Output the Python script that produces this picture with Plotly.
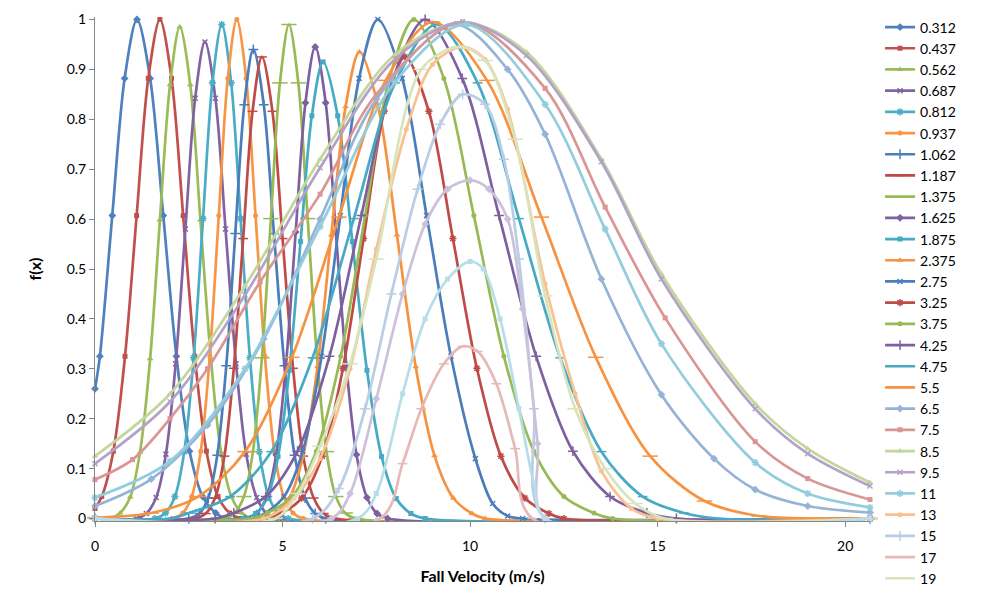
import plotly.graph_objects as go

# ---------------- data ----------------
names = ["0.312", "0.437", "0.562", "0.687", "0.812", "0.937", "1.062", "1.187", "1.375",
         "1.625", "1.875", "2.375", "2.75", "3.25", "3.75", "4.25", "4.75", "5.5",
         "6.5", "7.5", "8.5", "9.5", "11", "13", "15", "17", "19", "21", "23"]

x_0312 = [0, 0.13, 0.46, 0.79, 1.12, 1.47, 1.82, 2.17, 2.52, 2.87, 3.22, 3.5, 20.66]
y_0312 = [0.26, 0.325, 0.607, 0.882, 1, 0.882, 0.607, 0.325, 0.135, 0.044, 0.011, 0, 0]

x_0437 = [0, 0.18, 0.49, 0.8, 1.11, 1.42, 1.73, 2.04, 2.35, 2.66, 2.97, 3.28, 3.59, 3.9, 20.66]
y_0437 = [0.02, 0.044, 0.135, 0.325, 0.607, 0.882, 1, 0.882, 0.607, 0.325, 0.135, 0.044, 0.011, 0, 0]

x_0562 = [0, 0.4, 0.67, 0.94, 1.2, 1.47, 1.73, 2.0, 2.26, 2.54, 2.81, 3.09, 3.36, 3.64, 3.91, 4.2, 20.66]
y_0562 = [0, 0, 0.011, 0.043, 0.133, 0.32, 0.598, 0.869, 0.985, 0.869, 0.598, 0.32, 0.133, 0.043, 0.011, 0, 0]

x_0687 = [0, 1.1, 1.37, 1.63, 1.89, 2.15, 2.41, 2.67, 2.93, 3.21, 3.48, 3.76, 4.03, 4.31, 4.58, 4.9, 20.66]
y_0687 = [0, 0, 0.01, 0.042, 0.129, 0.31, 0.58, 0.842, 0.955, 0.842, 0.58, 0.31, 0.129, 0.042, 0.01, 0, 0]

x_0812 = [0, 1.6, 1.88, 2.13, 2.38, 2.63, 2.88, 3.13, 3.38, 3.63, 3.88, 4.13, 4.38, 4.63, 4.88, 5.15, 20.66]
y_0812 = [0, 0, 0.011, 0.044, 0.134, 0.322, 0.601, 0.873, 0.99, 0.873, 0.601, 0.322, 0.134, 0.044, 0.011, 0, 0]

x_0937 = [0, 2.05, 2.34, 2.58, 2.82, 3.06, 3.3, 3.54, 3.78, 4.03, 4.28, 4.53, 4.78, 5.03, 5.28, 5.55, 20.66]
y_0937 = [0, 0, 0.011, 0.044, 0.135, 0.325, 0.607, 0.882, 1.0, 0.882, 0.607, 0.325, 0.135, 0.044, 0.011, 0, 0]

x_1062 = [0, 2.5, 2.78, 3.02, 3.26, 3.5, 3.74, 3.98, 4.22, 4.5, 4.77, 5.05, 5.32, 5.6, 5.87, 6.15, 20.66]
y_1062 = [0, 0, 0.01, 0.041, 0.127, 0.306, 0.571, 0.829, 0.94, 0.829, 0.571, 0.306, 0.127, 0.041, 0.01, 0, 0]

x_1187 = [0, 2.65, 2.95, 3.2, 3.45, 3.7, 3.95, 4.2, 4.45, 4.73, 5.0, 5.28, 5.55, 5.83, 6.1, 6.4, 20.66]
y_1187 = [0, 0, 0.01, 0.041, 0.125, 0.301, 0.561, 0.816, 0.925, 0.816, 0.561, 0.301, 0.125, 0.041, 0.01, 0, 0]

x_1375 = [0, 3.45, 3.73, 3.97, 4.21, 4.45, 4.69, 4.93, 5.17, 5.42, 5.67, 5.92, 6.17, 6.42, 6.67, 6.95, 20.66]
y_1375 = [0, 0, 0.011, 0.044, 0.134, 0.322, 0.601, 0.873, 0.99, 0.873, 0.601, 0.322, 0.134, 0.044, 0.011, 0, 0]

x_1625 = [0, 4.0, 4.31, 4.57, 4.83, 5.09, 5.35, 5.61, 5.87, 6.15, 6.42, 6.7, 6.97, 7.25, 7.52, 7.8, 20.66]
y_1625 = [0, 0, 0.01, 0.042, 0.128, 0.307, 0.574, 0.833, 0.945, 0.833, 0.574, 0.307, 0.128, 0.042, 0.01, 0, 0]

x_1875 = [0, 3.95, 4.28, 4.58, 4.88, 5.18, 5.48, 5.78, 6.08, 6.47, 6.86, 7.25, 7.64, 8.03, 8.42, 8.8, 20.66]
y_1875 = [0, 0, 0.01, 0.04, 0.124, 0.297, 0.555, 0.807, 0.915, 0.807, 0.555, 0.297, 0.124, 0.04, 0.01, 0, 0]

x_2375 = [0, 4.4, 4.8, 5.18, 5.55, 5.93, 6.3, 6.68, 7.05, 7.55, 8.05, 8.55, 9.05, 9.55, 10.05, 10.4, 20.66]
y_2375 = [0, 0, 0.01, 0.041, 0.126, 0.304, 0.568, 0.825, 0.935, 0.825, 0.568, 0.304, 0.126, 0.041, 0.01, 0, 0]

x_275 = [0, 4.2, 4.54, 5.04, 5.54, 6.04, 6.54, 7.04, 7.54, 8.19, 8.84, 9.49, 10.14, 10.6, 11.0, 11.4, 20.66]
y_275 = [0, 0, 0.011, 0.044, 0.135, 0.325, 0.607, 0.882, 1.0, 0.882, 0.607, 0.325, 0.12, 0.03, 0.005, 0, 0]

x_325 = [0, 4.6, 4.96, 5.51, 6.06, 6.61, 7.16, 7.71, 8.26, 8.9, 9.54, 10.18, 10.82, 11.46, 12.1, 12.5, 20.66]
y_325 = [0, 0, 0.01, 0.041, 0.125, 0.301, 0.561, 0.816, 0.925, 0.816, 0.561, 0.301, 0.125, 0.041, 0.01, 0, 0]

x_375 = [0, 4.2, 4.6, 5.25, 5.9, 6.55, 7.2, 7.85, 8.5, 9.3, 10.1, 10.9, 11.7, 12.5, 13.3, 13.8, 20.66]
y_375 = [0, 0, 0.011, 0.044, 0.135, 0.325, 0.607, 0.882, 1.0, 0.882, 0.607, 0.325, 0.135, 0.044, 0.011, 0, 0]

x_425 = [0, 3.2, 3.7, 4.55, 5.4, 6.25, 7.1, 7.95, 8.8, 9.79, 10.77, 11.76, 12.74, 13.73, 14.71, 15.5, 20.66]
y_425 = [0, 0, 0.011, 0.044, 0.135, 0.325, 0.607, 0.882, 1.0, 0.882, 0.607, 0.325, 0.135, 0.044, 0.011, 0, 0]

x_475 = [0, 2.0, 2.5, 3.6, 4.7, 5.8, 6.9, 8.0, 9.1, 10.2, 11.3, 12.4, 13.5, 14.6, 15.7, 16.6, 20.66]
y_475 = [0, 0, 0.011, 0.044, 0.134, 0.322, 0.601, 0.873, 0.99, 0.873, 0.601, 0.322, 0.134, 0.044, 0.011, 0, 0]

x_55 = [0, 1.5, 2.75, 4.0, 5.25, 6.5, 7.75, 9.0, 10.45, 11.9, 13.35, 14.8, 16.25, 17.7, 19.2, 20.66]
y_55 = [0.002, 0.011, 0.044, 0.134, 0.323, 0.604, 0.878, 0.995, 0.878, 0.604, 0.323, 0.125, 0.035, 0.005, 0, 0]

x_65 = [0, 1.5, 3.0, 4.5, 6.0, 7.5, 9.6, 11.0, 12.0, 13.5, 15.1, 16.5, 17.6, 19.0, 20.66]
y_65 = [0.025, 0.079, 0.187, 0.36, 0.6, 0.84, 0.99, 0.9, 0.77, 0.48, 0.248, 0.12, 0.058, 0.025, 0.012]

x_75 = [0, 1.0, 2.0, 3.0, 4.4, 6.0, 7.5, 9.8, 12.0, 13.6, 15.2, 17.6, 19.0, 20.66]
y_75 = [0.078, 0.118, 0.2, 0.3, 0.474, 0.65, 0.85, 0.995, 0.862, 0.624, 0.402, 0.154, 0.08, 0.038]

x_85 = [0, 2.0, 4.0, 6.0, 8.0, 9.8, 11.5, 13.5, 15.1, 17.6, 19.0, 20.66]
y_85 = [0.125, 0.25, 0.466, 0.72, 0.93, 0.995, 0.935, 0.72, 0.49, 0.23, 0.14, 0.072]

x_95 = [0, 2.0, 4.0, 6.0, 8.0, 9.8, 11.5, 13.5, 15.1, 17.6, 19.0, 20.66]
y_95 = [0.11, 0.234, 0.448, 0.703, 0.921, 0.995, 0.928, 0.715, 0.48, 0.22, 0.13, 0.065]

x_11 = [0, 2.0, 4.0, 6.0, 8.0, 9.9, 12.0, 13.6, 15.1, 17.6, 19.0, 20.66]
y_11 = [0.042, 0.115, 0.3, 0.585, 0.875, 0.99, 0.83, 0.58, 0.35, 0.112, 0.05, 0.022]

x_13 = [0, 4.5, 5.3, 6.0, 6.8, 7.5, 8.3, 9.0, 9.8, 10.4, 11.0, 12.0, 12.8, 13.5, 14.3, 15.0, 20.66]
y_13 = [0, 0, 0.04, 0.12, 0.3, 0.54, 0.78, 0.91, 0.945, 0.92, 0.82, 0.47, 0.25, 0.095, 0.02, 0, 0]

x_15 = [0, 5.8, 6.5, 7.2, 7.9, 8.6, 9.2, 9.8, 10.4, 10.9, 11.3, 11.7, 12.0, 20.66]
y_15 = [0, 0, 0.06, 0.22, 0.45, 0.66, 0.79, 0.85, 0.83, 0.72, 0.52, 0.22, 0, 0]

x_17 = [0, 7.6, 8.2, 8.7, 9.3, 9.8, 10.2, 10.7, 11.2, 11.66, 20.66]
y_17 = [0, 0, 0.11, 0.22, 0.31, 0.345, 0.335, 0.27, 0.14, 0, 0]

x_19 = [0, 4.8, 5.4, 6.0, 6.8, 7.5, 8.7, 9.7, 10.4, 11.2, 12.0, 12.8, 13.6, 14.4, 15.2, 20.66]
y_19 = [0, 0, 0.05, 0.145, 0.31, 0.52, 0.9, 0.945, 0.918, 0.76, 0.446, 0.22, 0.1, 0.03, 0, 0]

x_21 = [0, 6.3, 6.8, 7.5, 8.2, 8.8, 9.4, 10.0, 10.5, 11.0, 11.4, 11.8, 12.0, 20.66]
y_21 = [0, 0, 0.05, 0.24, 0.45, 0.59, 0.66, 0.678, 0.66, 0.6, 0.42, 0.15, 0, 0]

x_23 = [0, 7.0, 7.5, 8.2, 8.8, 9.4, 10.0, 10.35, 10.8, 11.3, 11.7, 12.0, 20.66]
y_23 = [0, 0, 0.05, 0.25, 0.4, 0.48, 0.515, 0.5, 0.4, 0.22, 0.07, 0, 0]

xs = [x_0312, x_0437, x_0562, x_0687, x_0812, x_0937, x_1062, x_1187, x_1375, x_1625,
      x_1875, x_2375, x_275, x_325, x_375, x_425, x_475, x_55, x_65, x_75, x_85, x_95,
      x_11, x_13, x_15, x_17, x_19, x_21, x_23]
ys = [y_0312, y_0437, y_0562, y_0687, y_0812, y_0937, y_1062, y_1187, y_1375, y_1625,
      y_1875, y_2375, y_275, y_325, y_375, y_425, y_475, y_55, y_65, y_75, y_85, y_95,
      y_11, y_13, y_15, y_17, y_19, y_21, y_23]

x_ticks = [0, 5, 10, 15, 20]
y_ticks = [0, 0.1, 0.2, 0.3, 0.4, 0.5, 0.6, 0.7, 0.8, 0.9, 1]
y_tick_text = ["0", "0.1", "0.2", "0.3", "0.4", "0.5", "0.6", "0.7", "0.8", "0.9", "1"]

# ---------------- styles ----------------
colors = ["#4F81BD", "#C0504D", "#9BBB59", "#8064A2", "#4BACC6", "#F79646",
          "#4A7EBB", "#BE4B48", "#98B954", "#7D60A0", "#46AAC5", "#F69240",
          "#4A7EBB", "#BE4B48", "#98B954", "#7D60A0", "#46AAC5", "#F69240",
          "#95B3D7", "#D99694", "#C3D69B", "#B3A2C7", "#93CDDD", "#FAC090",
          "#B9CDE5", "#E6B9B8", "#D7E4BD", "#CCC1DA", "#B7DEE8"]
sym_cycle = [("diamond", 6, False), ("square", 5, False), ("triangle-up", 6, False),
             ("x-thin-open", 5, True), ("asterisk-open", 6, True), ("circle", 5, False),
             ("cross-thin-open", 7, True), ("line-ew-open", 7, True), ("line-ew-open", 11, True)]

FONT = "Lato, 'Open Sans', sans-serif"

fig = go.Figure()
for i, (nm, xv, yv) in enumerate(zip(names, xs, ys)):
    sym, sz, is_open = sym_cycle[i % 9]
    col = colors[i]
    fig.add_trace(go.Scatter(
        x=xv, y=yv, name=nm, mode="lines+markers",
        line=dict(color=col, width=2.7, shape="spline", smoothing=0.9),
        marker=dict(symbol=sym, size=sz, color=col,
                    line=dict(color=col, width=1.5 if is_open else 0)),
        cliponaxis=False,
        showlegend=(i < 27),
    ))

fig.update_layout(
    width=990, height=589,
    paper_bgcolor="white", plot_bgcolor="white",
    margin=dict(l=95, r=120, t=17, b=68, autoexpand=False),
    font=dict(family=FONT, size=14, color="#000000"),
    legend=dict(
        x=1.013, xanchor="left", y=1.011, yanchor="top",
        font=dict(family=FONT, size=14, color="#000000"),
        itemwidth=30, bgcolor="rgba(0,0,0,0)", borderwidth=0,
        tracegroupgap=0, maxheight=600,
    ),
    xaxis=dict(
        range=[0, 20.66], tickvals=x_ticks, ticktext=[str(v) for v in x_ticks],
        showgrid=False, zeroline=False, showline=True, linecolor="#868686", linewidth=1,
        ticks="outside", ticklen=5, tickcolor="#868686", ticklabelstandoff=7,
        tickfont=dict(family=FONT, size=14, color="#000000"),
        title=dict(text="<b>Fall Velocity (m/s)</b>", standoff=18,
                   font=dict(family=FONT, size=16, color="#000000")),
    ),
    yaxis=dict(
        range=[-0.005, 1.005], tickvals=y_ticks, ticktext=y_tick_text,
        showgrid=False, zeroline=False, showline=True, linecolor="#868686", linewidth=1,
        ticks="outside", ticklen=5, tickcolor="#868686",
        tickfont=dict(family=FONT, size=14, color="#000000"),
        title=dict(text="<b>f(x)</b>", standoff=21,
                   font=dict(family=FONT, size=16, color="#000000")),
    ),
)

fig.write_html("out.html", config={"displayModeBar": False},
               post_script="document.body.style.margin='0px';")
